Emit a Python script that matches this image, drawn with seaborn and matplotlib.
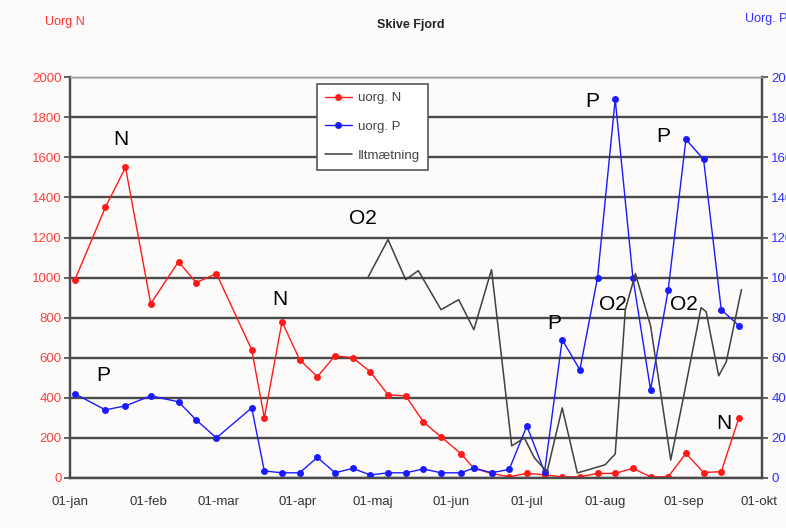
import pandas as pd
import seaborn as sns
import matplotlib.pyplot as plt
from matplotlib.lines import Line2D

# sampling dates (uorg. N and uorg. P share them)
sample_dates = [
    "2005-01-03", "2005-01-15", "2005-01-23", "2005-02-02", "2005-02-13", "2005-02-20",
    "2005-02-28", "2005-03-14", "2005-03-19", "2005-03-26", "2005-04-02", "2005-04-09",
    "2005-04-16", "2005-04-23", "2005-04-30", "2005-05-07", "2005-05-14", "2005-05-21",
    "2005-05-28", "2005-06-05", "2005-06-10", "2005-06-17", "2005-06-24", "2005-07-01",
    "2005-07-08", "2005-07-15", "2005-07-22", "2005-07-29", "2005-08-05", "2005-08-12",
    "2005-08-19", "2005-08-26", "2005-09-02", "2005-09-09", "2005-09-16", "2005-09-23",
]
uorg_n = [990, 1350, 1550, 870, 1080, 975, 1020, 640, 300, 780, 590, 505,
          610, 600, 530, 415, 410, 280, 205, 120, 48, 23, 6, 23,
          16, 6, 6, 23, 23, 48, 6, 6, 123, 27, 32, 300]
uorg_p = [42, 34, 36, 41, 38, 29, 20, 35, 3.5, 2.6, 2.6, 10.3,
          2.6, 4.8, 1.5, 2.6, 2.6, 4.5, 2.6, 2.6, 5, 2.6, 4.3, 26,
          3, 69, 54, 100, 189, 100, 44, 94, 169, 159, 84, 76]

# oxygen saturation
o2_dates = [
    "2005-04-29", "2005-05-07", "2005-05-14", "2005-05-19", "2005-05-28", "2005-06-04",
    "2005-06-10", "2005-06-17", "2005-06-21", "2005-06-25", "2005-06-30", "2005-07-04",
    "2005-07-09", "2005-07-15", "2005-07-21", "2005-08-01", "2005-08-05", "2005-08-09",
    "2005-08-13", "2005-08-19", "2005-08-27", "2005-09-01", "2005-09-08", "2005-09-10",
    "2005-09-15", "2005-09-18", "2005-09-24",
]
o2_values = [100, 119, 99, 103.5, 84, 89, 74, 104, 60, 16, 20, 10,
             3, 35, 2.5, 6.6, 12, 84, 102, 76, 9, 40, 85, 83,
             51, 58, 94]

month_ticks = ["2005-01-01", "2005-02-01", "2005-03-01", "2005-04-01", "2005-05-01",
               "2005-06-01", "2005-07-01", "2005-08-01", "2005-09-01", "2005-10-01"]
month_labels = ["01-jan", "01-feb", "01-mar", "01-apr", "01-maj",
                "01-jun", "01-jul", "01-aug", "01-sep", "01-okt"]

df = pd.DataFrame({"Dato": pd.to_datetime(sample_dates), "N": uorg_n, "P": uorg_p})
df_o2 = pd.DataFrame({"Dato": pd.to_datetime(o2_dates), "O2": o2_values})

sns.set_style("white")
plt.rcParams["font.family"] = ["Liberation Sans", "DejaVu Sans"]

bg = "#fcfbfa"
fig = plt.figure(figsize=(7.86, 5.28), dpi=100, facecolor=bg)
ax = fig.add_axes([0.089, 0.0947, 0.880, 0.759], facecolor=bg)
ax2 = ax.twinx()

sns.lineplot(data=df, x="Dato", y="N", ax=ax, color="#ff1a1a", lw=1,
             marker="o", markersize=5, markeredgewidth=0, legend=False)
sns.lineplot(data=df, x="Dato", y="P", ax=ax2, color="#1a1aff", lw=1,
             marker="o", markersize=5, markeredgewidth=0, legend=False)
sns.lineplot(data=df_o2, x="Dato", y="O2", ax=ax2, color="#404040", lw=1.1, legend=False)

ax.set_ylim(0, 2000)
ax2.set_ylim(0, 200)
ax.set_xlim(pd.Timestamp("2005-01-01"), pd.Timestamp("2005-10-02"))
ax.set_yticks(range(0, 2001, 200))
ax2.set_yticks(range(0, 201, 20))
ax.set_xticks(pd.to_datetime(month_ticks))
ax.set_xticklabels(month_labels)

ax.yaxis.grid(True, color="#4a4a4a", lw=1.7)
ax.set_axisbelow(True)
for a in (ax, ax2):
    a.set_xlabel("")
    a.set_ylabel("")
    for side in ("left", "right", "bottom"):
        a.spines[side].set_color("#4a4a4a")
        a.spines[side].set_linewidth(1.6)
    a.spines["top"].set_color("#a0a0a0")
    a.spines["top"].set_linewidth(1)

ax.tick_params(axis="y", length=4, width=1.2, color="#4a4a4a", labelcolor="#ff4040",
               labelsize=9.5, pad=2)
ax2.tick_params(axis="y", length=4, width=1.2, color="#4a4a4a", labelcolor="#3030ff",
                labelsize=9.5, pad=3)
ax.tick_params(axis="x", length=5, width=1.2, color="#4a4a4a", labelcolor="#333333",
               labelsize=9.5, pad=8)

# annotations
ann = dict(ha="center", va="center", fontsize=15, family="Liberation Sans", color="black")
ax.text(pd.Timestamp("2005-01-21"), 1687, "N", **ann)
ax.text(pd.Timestamp("2005-03-25"), 889, "N", **ann)
ax.text(pd.Timestamp("2005-01-14"), 510, "P", **ann)
ax.text(pd.Timestamp("2005-04-27"), 1296, "O2", **ann)
ax.text(pd.Timestamp("2005-07-27"), 1877, "P", **ann)
ax.text(pd.Timestamp("2005-08-24"), 1706, "P", **ann)
ax.text(pd.Timestamp("2005-07-12"), 773, "P", **ann)
ax.text(pd.Timestamp("2005-08-04"), 864, "O2", **ann)
ax.text(pd.Timestamp("2005-09-01"), 864, "O2", **ann)
ax.text(pd.Timestamp("2005-09-17"), 271, "N", **ann)

handles = [
    Line2D([], [], color="#ff1a1a", lw=1, marker="o", markersize=5, markeredgewidth=0),
    Line2D([], [], color="#1a1aff", lw=1, marker="o", markersize=5, markeredgewidth=0),
    Line2D([], [], color="#404040", lw=1.1),
]
leg = ax2.legend(handles, ["uorg. N", "uorg. P", "Iltmætning"], loc="upper left",
                 bbox_to_anchor=(0.352, 0.993), frameon=True, fancybox=False,
                 framealpha=1, edgecolor="#555555", fontsize=9.5, handlelength=2.0,
                 borderpad=0.6, labelspacing=1.25, handletextpad=0.45,
                 borderaxespad=0.3)
leg.get_frame().set_linewidth(1.2)
for t in leg.get_texts():
    t.set_color("#444444")

fig.text(45 / 786, 1 - 22 / 528, "Uorg N", color="#ff3030", fontsize=9, va="center")
fig.text(411 / 786, 1 - 25 / 528, "Skive Fjord", color="#222222", fontsize=9,
         fontweight="bold", ha="center", va="center")
fig.text(745 / 786, 1 - 19 / 528, "Uorg. P", color="#3030ff", fontsize=9, va="center")

fig.savefig("out.png", dpi=100, facecolor=bg)
